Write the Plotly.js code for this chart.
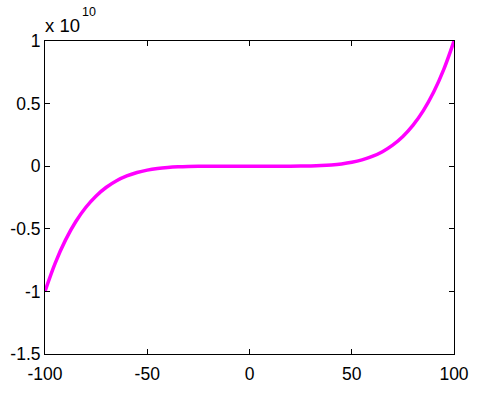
<!DOCTYPE html>
<html>
<head>
<meta charset="utf-8">
<script src="https://cdn.plot.ly/plotly-3.0.1.min.js"></script>
<style>html,body{margin:0;padding:0;background:#fff;}#chart{width:484px;height:393px;}</style>
</head>
<body>
<div id="chart"></div>
<script>
// x values and y values (in units of 1e10)
var xVals = [-100,-95,-90,-85,-80,-75,-70,-65,-60,-55,-50,-45,-40,-35,-30,-25,-20,-15,-10,-5,0,5,10,15,20,25,30,35,40,45,50,55,60,65,70,75,80,85,90,95,100];
var yVals = [-1,-0.7738,-0.5905,-0.4437,-0.3277,-0.2373,-0.1681,-0.1160,-0.0778,-0.0503,-0.03125,-0.01845,-0.01024,-0.00525,-0.00243,-0.00098,-0.00032,-0.000076,-0.00001,0,0,0,0.00001,0.000076,0.00032,0.00098,0.00243,0.00525,0.01024,0.01845,0.03125,0.0503,0.0778,0.1160,0.1681,0.2373,0.3277,0.4437,0.5905,0.7738,1];
var xTicks = [-100,-50,0,50,100];
var xTickText = ['-100','-50','0','50','100'];
var yTicks = [-1.5,-1,-0.5,0,0.5,1];
var yTickText = ['-1.5','-1','-0.5','0','0.5','1'];
var exponentBase = 'x 10';
var exponentPower = '10';

var font = {family: 'Liberation Sans, Arial, sans-serif', size: 17.5, color: '#000'};
Plotly.newPlot('chart', [{
  x: xVals, y: yVals, type: 'scatter', mode: 'lines',
  line: {color: '#ff00ff', width: 3.5, shape: 'spline'}
}], {
  width: 484, height: 393,
  margin: {l: 45, r: 30, t: 41, b: 39},
  paper_bgcolor: '#fff', plot_bgcolor: '#fff',
  showlegend: false,
  font: font,
  xaxis: {range: [-100, 100], tickvals: xTicks, ticktext: xTickText, ticks: 'inside', ticklen: 5,
          tickcolor: '#000', showline: true, linecolor: '#000', linewidth: 1, mirror: 'ticks',
          showgrid: false, zeroline: false, tickfont: font, ticklabelstandoff: 4},
  yaxis: {range: [-1.5, 1], tickvals: yTicks, ticktext: yTickText, ticks: 'inside', ticklen: 5,
          tickcolor: '#000', showline: true, linecolor: '#000', linewidth: 1, mirror: 'ticks',
          showgrid: false, zeroline: false, tickfont: font},
  annotations: [
    {text: exponentBase, xref: 'paper', yref: 'paper', x: 0, y: 1, xanchor: 'left', yanchor: 'bottom',
     yshift: 3, xshift: -2, showarrow: false, font: {family: font.family, size: 18.5, color: '#000'}},
    {text: exponentPower, xref: 'paper', yref: 'paper', x: 0.086, y: 1, xanchor: 'left', yanchor: 'bottom',
     yshift: 20, showarrow: false, font: {family: font.family, size: 12.5, color: '#000'}}
  ]
}, {displayModeBar: false, staticPlot: true});
</script>
</body>
</html>
